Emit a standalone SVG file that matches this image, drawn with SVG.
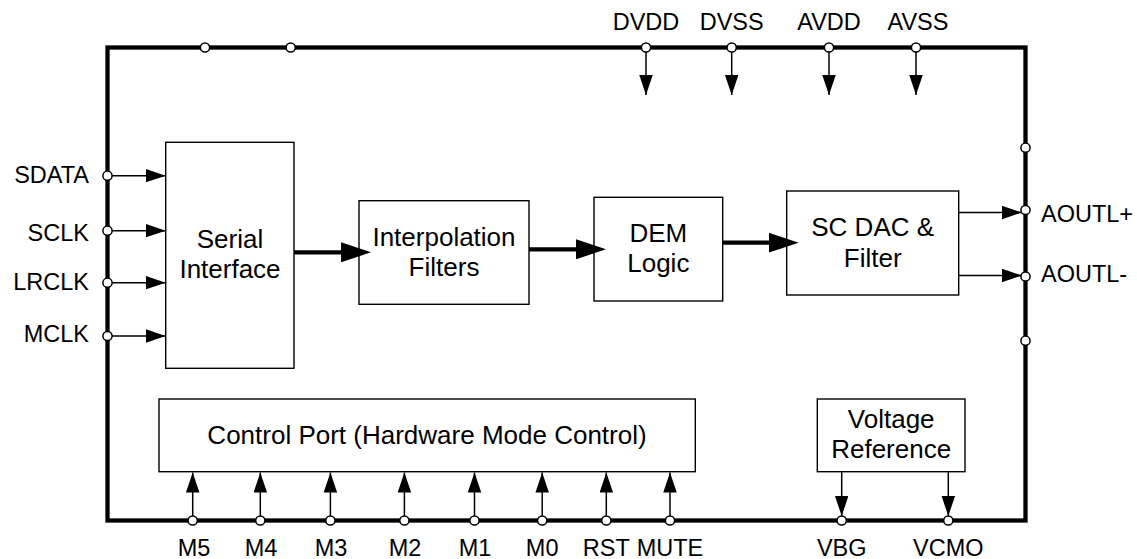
<svg xmlns="http://www.w3.org/2000/svg" width="1137" height="559" viewBox="0 0 1137 559">
  <style>
    text { font-family: "Liberation Sans", Arial, sans-serif; fill: #000; }
    .pin { font-size: 23.5px; }
    .blk { font-size: 26px; text-anchor: middle; }
    .box { fill: #fff; stroke: #000; stroke-width: 1.4; }
    .frame { fill: none; stroke: #000; stroke-width: 4.3; stroke-linejoin: miter; }
    .wire { fill: none; stroke: #000; stroke-width: 1.5; }
    .bus { fill: none; stroke: #000; stroke-width: 4.2; }
    .pad { fill: #fff; stroke: #000; stroke-width: 1.5; }
  </style>
  <defs>
    <marker id="arr" markerUnits="userSpaceOnUse" markerWidth="20" markerHeight="14" refX="20" refY="6.75" orient="auto">
      <path d="M0,0 L20,6.75 L0,13.5 z" fill="#000"/>
    </marker>
    <marker id="arrBig" markerUnits="userSpaceOnUse" markerWidth="30" markerHeight="20" refX="18" refY="10" orient="auto">
      <path d="M0,0 L30,10 L0,20 z" fill="#000"/>
    </marker>
  </defs>

  <!-- chip outline -->
  <g id="chip">
    <rect class="frame" x="107.5" y="47.5" width="918" height="473"/>
  </g>

  <!-- function blocks -->
  <g id="serial-interface">
    <rect class="box" x="165.7" y="142.3" width="128.3" height="226"/>
    <text class="blk" x="230" y="248.3">Serial</text>
    <text class="blk" x="230" y="278.3">Interface</text>
  </g>
  <g id="interpolation-filters">
    <rect class="box" x="359" y="200.7" width="170" height="103.6"/>
    <text class="blk" x="444" y="246">Interpolation</text>
    <text class="blk" x="444" y="276">Filters</text>
  </g>
  <g id="dem-logic">
    <rect class="box" x="594" y="197.3" width="128.7" height="103.7"/>
    <text class="blk" x="658.3" y="241.7">DEM</text>
    <text class="blk" x="658.3" y="271.7">Logic</text>
  </g>
  <g id="sc-dac">
    <rect class="box" x="786.7" y="191" width="172" height="104"/>
    <text class="blk" x="872.7" y="236">SC DAC &amp;</text>
    <text class="blk" x="872.7" y="266.7">Filter</text>
  </g>
  <g id="control-port">
    <rect class="box" x="159" y="399" width="536.3" height="72.7"/>
    <text class="blk" x="427" y="444">Control Port (Hardware Mode Control)</text>
  </g>
  <g id="voltage-reference">
    <rect class="box" x="817.3" y="399" width="147.7" height="72.7"/>
    <text class="blk" x="891.2" y="428.3">Voltage</text>
    <text class="blk" x="891.2" y="457.7">Reference</text>
  </g>

  <!-- signal and supply connections -->
  <g id="connectors">
    <!-- data path -->
    <line class="bus" x1="294" y1="252.3" x2="359" y2="252.3" marker-end="url(#arrBig)"/>
    <line class="bus" x1="529" y1="249.3" x2="594" y2="249.3" marker-end="url(#arrBig)"/>
    <line class="bus" x1="722.7" y1="242.7" x2="786.7" y2="242.7" marker-end="url(#arrBig)"/>
    <!-- serial inputs -->
    <line class="wire" x1="107.5" y1="175.7" x2="165.7" y2="175.7" marker-end="url(#arr)"/>
    <line class="wire" x1="107.5" y1="230.7" x2="165.7" y2="230.7" marker-end="url(#arr)"/>
    <line class="wire" x1="107.5" y1="282.7" x2="165.7" y2="282.7" marker-end="url(#arr)"/>
    <line class="wire" x1="107.5" y1="336" x2="165.7" y2="336" marker-end="url(#arr)"/>
    <!-- supplies -->
    <line class="wire" x1="646" y1="47.5" x2="646" y2="95" marker-end="url(#arr)"/>
    <line class="wire" x1="731.7" y1="47.5" x2="731.7" y2="95" marker-end="url(#arr)"/>
    <line class="wire" x1="829" y1="47.5" x2="829" y2="95" marker-end="url(#arr)"/>
    <line class="wire" x1="916" y1="47.5" x2="916" y2="95" marker-end="url(#arr)"/>
    <!-- analog outputs -->
    <line class="wire" x1="958.7" y1="212.5" x2="1022" y2="212.5" marker-end="url(#arr)"/>
    <line class="wire" x1="958.7" y1="275.5" x2="1022" y2="275.5" marker-end="url(#arr)"/>
    <!-- mode control inputs -->
    <line class="wire" x1="192.7" y1="520.5" x2="192.7" y2="472.5" marker-end="url(#arr)"/>
    <line class="wire" x1="260.3" y1="520.5" x2="260.3" y2="472.5" marker-end="url(#arr)"/>
    <line class="wire" x1="330.4" y1="520.5" x2="330.4" y2="472.5" marker-end="url(#arr)"/>
    <line class="wire" x1="404.4" y1="520.5" x2="404.4" y2="472.5" marker-end="url(#arr)"/>
    <line class="wire" x1="474.5" y1="520.5" x2="474.5" y2="472.5" marker-end="url(#arr)"/>
    <line class="wire" x1="542.2" y1="520.5" x2="542.2" y2="472.5" marker-end="url(#arr)"/>
    <line class="wire" x1="606.3" y1="520.5" x2="606.3" y2="472.5" marker-end="url(#arr)"/>
    <line class="wire" x1="670" y1="520.5" x2="670" y2="472.5" marker-end="url(#arr)"/>
    <!-- reference outputs -->
    <line class="wire" x1="841.7" y1="471.7" x2="841.7" y2="516" marker-end="url(#arr)"/>
    <line class="wire" x1="948.3" y1="471.7" x2="948.3" y2="516" marker-end="url(#arr)"/>
  </g>

  <!-- package pads -->
  <g id="pads">
    <circle class="pad" cx="205" cy="47.5" r="4.6"/>
    <circle class="pad" cx="290.7" cy="47.5" r="4.6"/>
    <circle class="pad" cx="646" cy="47.5" r="4.6"/>
    <circle class="pad" cx="731.7" cy="47.5" r="4.6"/>
    <circle class="pad" cx="829" cy="47.5" r="4.6"/>
    <circle class="pad" cx="916" cy="47.5" r="4.6"/>
    <circle class="pad" cx="107.5" cy="175.7" r="4.6"/>
    <circle class="pad" cx="107.5" cy="230.7" r="4.6"/>
    <circle class="pad" cx="107.5" cy="282.7" r="4.6"/>
    <circle class="pad" cx="107.5" cy="336" r="4.6"/>
    <circle class="pad" cx="1025.5" cy="147.7" r="4.6"/>
    <circle class="pad" cx="1025.5" cy="210" r="4.6"/>
    <circle class="pad" cx="1025.5" cy="276.5" r="4.6"/>
    <circle class="pad" cx="1025.5" cy="340.7" r="4.6"/>
    <circle class="pad" cx="192.7" cy="520.5" r="4.6"/>
    <circle class="pad" cx="260.3" cy="520.5" r="4.6"/>
    <circle class="pad" cx="330.4" cy="520.5" r="4.6"/>
    <circle class="pad" cx="404.4" cy="520.5" r="4.6"/>
    <circle class="pad" cx="474.5" cy="520.5" r="4.6"/>
    <circle class="pad" cx="542.2" cy="520.5" r="4.6"/>
    <circle class="pad" cx="606.3" cy="520.5" r="4.6"/>
    <circle class="pad" cx="670" cy="520.5" r="4.6"/>
    <circle class="pad" cx="841.7" cy="520.5" r="4.6"/>
    <circle class="pad" cx="948.3" cy="520.5" r="4.6"/>
  </g>

  <!-- pin names -->
  <g id="pin-labels" class="pin">
    <text x="646" y="30" text-anchor="middle">DVDD</text>
    <text x="731.7" y="30" text-anchor="middle">DVSS</text>
    <text x="829" y="30" text-anchor="middle">AVDD</text>
    <text x="918" y="30" text-anchor="middle">AVSS</text>
    <text x="89" y="183.3" text-anchor="end">SDATA</text>
    <text x="89" y="240.7" text-anchor="end">SCLK</text>
    <text x="89" y="290" text-anchor="end">LRCLK</text>
    <text x="89" y="341.7" text-anchor="end">MCLK</text>
    <text x="1041" y="222">AOUTL+</text>
    <text x="1041" y="281.7">AOUTL-</text>
    <text x="194" y="556" text-anchor="middle">M5</text>
    <text x="261" y="556" text-anchor="middle">M4</text>
    <text x="331" y="556" text-anchor="middle">M3</text>
    <text x="405" y="556" text-anchor="middle">M2</text>
    <text x="475" y="556" text-anchor="middle">M1</text>
    <text x="542.2" y="556" text-anchor="middle">M0</text>
    <text x="606.3" y="556" text-anchor="middle">RST</text>
    <text x="670" y="556" text-anchor="middle">MUTE</text>
    <text x="841.7" y="556" text-anchor="middle">VBG</text>
    <text x="948.3" y="556" text-anchor="middle">VCMO</text>
  </g>
</svg>
